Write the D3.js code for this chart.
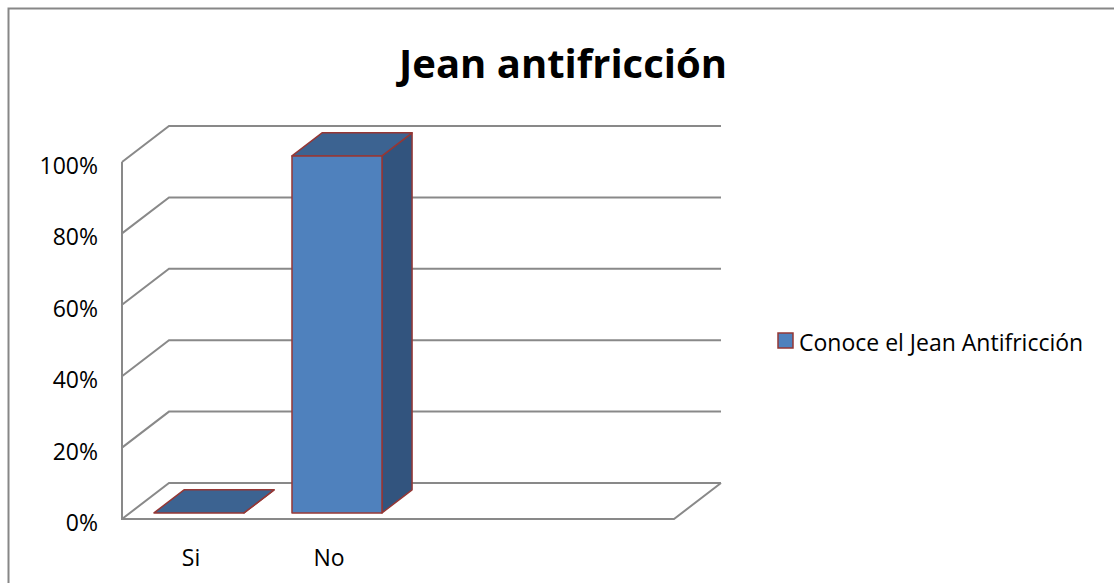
<!DOCTYPE html>
<html>
<head>
<meta charset="utf-8">
<script src="https://cdn.jsdelivr.net/npm/d3@7"></script>
<style>
  body { margin: 0; background: #fff; }
  text { font-family: "Open Sans", "Noto Sans", sans-serif; fill: #000; }
</style>
</head>
<body>
<svg width="1114" height="583"></svg>
<script>
// data
const title = 'Jean antifricción';
const seriesName = 'Conoce el Jean Antifricción';
const categories = ['Si', 'No'];
const values = [0, 1];            // share of answers
const slots = 4;                  // category slots on the axis (two unused)
const yTicks = [0, 0.2, 0.4, 0.6, 0.8, 1];

const svg = d3.select('svg');

// outer frame
svg.append('rect')
  .attr('x', 8.5).attr('y', 8.5)
  .attr('width', 1200).attr('height', 700)
  .attr('fill', 'none').attr('stroke', '#878787').attr('stroke-width', 2);

const x = d3.scaleBand().domain(d3.range(slots)).range([122, 674]);
const y = d3.scaleLinear().domain([0, 1]).range([519, 162]);
const depth = { dx: 47, dy: -36 };  // full depth of the floor
const z0 = 0.17, z1 = 0.81;        // bar front / back inside the depth
const barW = 90;

const grid = svg.append('g').attr('fill', 'none').attr('stroke', '#898989').attr('stroke-width', 2);

// back wall lines + side wall diagonals
grid.selectAll('path.gl').data(yTicks)
  .enter().append('path')
    .attr('class', 'gl')
    .attr('d', d => {
      const x0 = x.range()[0], yy = y(d);
      return `M${x0},${yy}L${x0 + depth.dx},${yy + depth.dy}L${x.range()[1] + depth.dx},${yy + depth.dy}`;
    });

// left front edge and floor front edge
grid.append('path')
  .attr('d', `M${x.range()[0]},${y(1)}L${x.range()[0]},${y(0)}L${x.range()[1]},${y(0)}L${x.range()[1] + depth.dx},${y(0) + depth.dy}`);

// y labels
svg.selectAll('text.yl').data(yTicks)
  .enter().append('text')
    .attr('class', 'yl')
    .attr('x', 98)
    .attr('y', d => y(d) + 3)
    .attr('text-anchor', 'end')
    .attr('dominant-baseline', 'central')
    .attr('font-size', 23)
    .text(d3.format('.0%'));

// bars
const bars = svg.selectAll('g.bar').data(categories.map((c, i) => ({ c, i, v: values[i] })))
  .enter().append('g').attr('class', 'bar')
    .attr('stroke', '#953735').attr('stroke-width', 1.5).attr('stroke-linejoin', 'round');

const fx = d => x(d.i) + (x.bandwidth() - barW) / 2 + depth.dx * z0;
const fy = v => y(v) + depth.dy * z0;
const bdx = depth.dx * (z1 - z0), bdy = depth.dy * (z1 - z0);

bars.append('path')  // right side
  .attr('fill', '#32547e')
  .attr('d', d => {
    const xr = fx(d) + barW, yt = fy(d.v), yb = fy(0);
    return `M${xr},${yb}L${xr},${yt}L${xr + bdx},${yt + bdy}L${xr + bdx},${yb + bdy}Z`;
  });
bars.append('path')  // top
  .attr('fill', '#3c6391')
  .attr('d', d => {
    const xl = fx(d), yt = fy(d.v);
    return `M${xl},${yt}L${xl + bdx},${yt + bdy}L${xl + barW + bdx},${yt + bdy}L${xl + barW},${yt}Z`;
  });
bars.append('rect')  // front
  .attr('fill', '#4f81bd')
  .attr('x', d => fx(d))
  .attr('y', d => fy(d.v))
  .attr('width', barW)
  .attr('height', d => fy(0) - fy(d.v));

// category labels
svg.selectAll('text.xl').data(categories)
  .enter().append('text')
    .attr('class', 'xl')
    .attr('x', (d, i) => x(i) + x.bandwidth() / 2)
    .attr('y', 557)
    .attr('text-anchor', 'middle')
    .attr('dominant-baseline', 'central')
    .attr('font-size', 23)
    .text(d => d);

// title
svg.append('text')
  .attr('x', 563).attr('y', 62)
  .attr('text-anchor', 'middle')
  .attr('dominant-baseline', 'central')
  .attr('font-size', 40)
  .attr('font-weight', 'bold')
  .text(title);

// legend
const lg = svg.append('g').attr('transform', 'translate(778,333)');
lg.append('rect')
  .attr('width', 15).attr('height', 15)
  .attr('fill', '#4f81bd').attr('stroke', '#953735').attr('stroke-width', 1.5);
lg.append('text')
  .attr('x', 21).attr('y', 8.5)
  .attr('dominant-baseline', 'central')
  .attr('font-size', 23)
  .text(seriesName);
</script>
</body>
</html>
